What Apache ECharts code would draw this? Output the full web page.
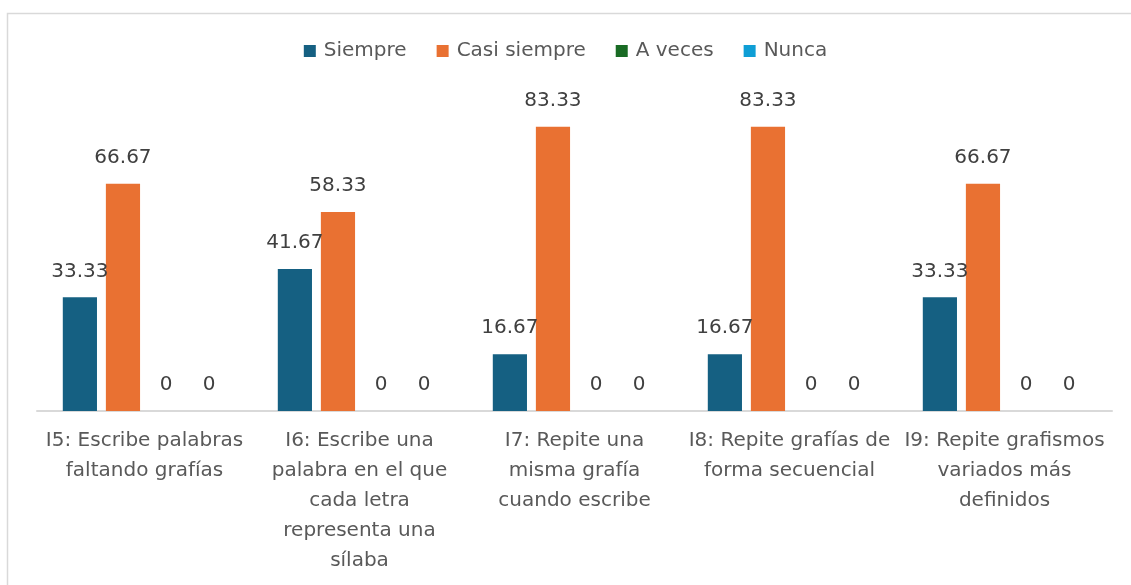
<!DOCTYPE html>
<html>
<head>
<meta charset="utf-8">
<script src="https://cdn.jsdelivr.net/npm/echarts@6/dist/echarts.min.js"></script>
<style>
  html, body { margin: 0; padding: 0; background: #fff; }
  #chart { width: 1131px; height: 585px; }
</style>
</head>
<body>
<div id="chart"></div>
<script>
// categorías (con saltos de línea como en la figura)
const categories = [
  'I5: Escribe palabras\nfaltando grafías',
  'I6: Escribe una\npalabra en el que\ncada letra\nrepresenta una\nsílaba',
  'I7: Repite una\nmisma grafía\ncuando escribe',
  'I8: Repite grafías de\nforma secuencial',
  'I9: Repite grafismos\nvariados más\ndefinidos'
]

const seriesNames = ['Siempre', 'Casi siempre', 'A veces', 'Nunca']
const siempre = [33.33, 41.67, 16.67, 16.67, 33.33]
const casiSiempre = [66.67, 58.33, 83.33, 83.33, 66.67]
const aVeces = [0, 0, 0, 0, 0]
const nunca = [0, 0, 0, 0, 0]

const colors = ['#156082', '#E97132', '#196B24', '#0F9ED5']
const fontFamily = '"DejaVu Sans", sans-serif'

const chart = echarts.init(document.getElementById('chart'))

function makeSeries(name, data, color) {
  return {
    name: name,
    type: 'bar',
    data: data,
    itemStyle: { color: color },
    barGap: '26%',
    barCategoryGap: '24%',
    label: {
      show: true,
      position: 'top',
      distance: 16,
      color: '#404040',
      fontSize: 20,
      fontFamily: fontFamily
    }
  }
}

const option = {
  animation: false,
  color: colors,
  legend: {
    data: seriesNames,
    top: 36,
    left: 'center',
    itemWidth: 12,
    itemHeight: 12,
    itemGap: 30,
    icon: 'rect',
    textStyle: {
      color: '#595959',
      fontSize: 20,
      fontFamily: fontFamily,
      padding: [0, 0, 0, 3]
    }
  },
  grid: {
    left: 37,
    right: 19,
    top: 70,
    bottom: 174
  },
  xAxis: {
    type: 'category',
    data: categories,
    axisLine: { lineStyle: { color: '#d9d9d9', width: 2 } },
    axisTick: { show: false },
    axisLabel: {
      color: '#595959',
      fontSize: 20,
      fontFamily: fontFamily,
      lineHeight: 30,
      margin: 15,
      interval: 0
    }
  },
  yAxis: {
    type: 'value',
    min: 0,
    max: 100,
    show: false,
    splitLine: { show: false }
  },
  graphic: [
    {
      type: 'polyline',
      silent: true,
      shape: { points: [[7.5, 600], [7.5, 13.5], [1140, 13.5]] },
      style: { fill: 'none', stroke: '#d9d9d9', lineWidth: 1.5 }
    }
  ],
  series: [
    makeSeries(seriesNames[0], siempre, colors[0]),
    makeSeries(seriesNames[1], casiSiempre, colors[1]),
    makeSeries(seriesNames[2], aVeces, colors[2]),
    makeSeries(seriesNames[3], nunca, colors[3])
  ]
}

chart.setOption(option)
</script>
</body>
</html>
